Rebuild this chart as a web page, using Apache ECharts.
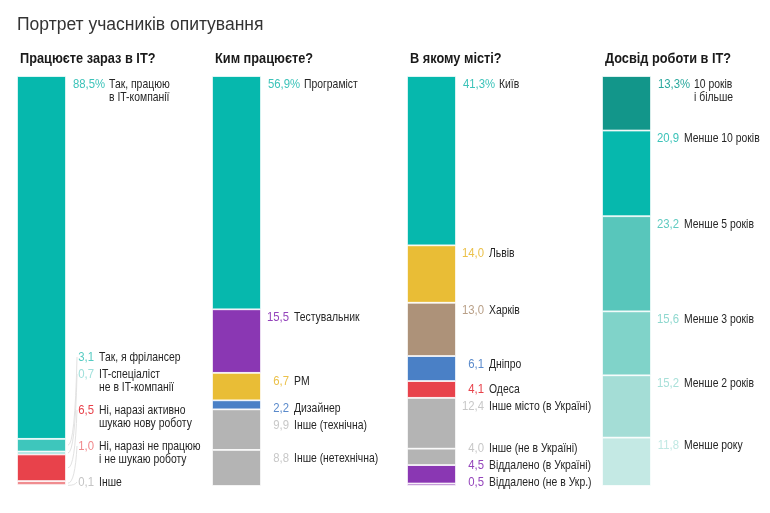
<!DOCTYPE html>
<html><head><meta charset="utf-8">
<script src="https://cdn.jsdelivr.net/npm/echarts@6/dist/echarts.min.js"></script>
<style>html,body{margin:0;padding:0;background:#fff}#c{width:770px;height:513px}</style>
</head><body><div id="c"></div>
<script>
const titleText = 'Портрет учасників опитування';
const questions = ['Працюєте зараз в IT?', 'Ким працюєте?', 'В якому місті?', 'Досвід роботи в IT?'];

const workValues = [88.5, 3.1, 0.7, 6.5, 1.0, 0.1];
const workLabels = ['Так, працюю\nв IT-компанії', 'Так, я фрілансер', 'IT-спеціаліст\nне в IT-компанії', 'Ні, наразі активно\nшукаю нову роботу', 'Ні, наразі не працюю\nі не шукаю роботу', 'Інше'];
const roleValues = [56.9, 15.5, 6.7, 2.2, 9.9, 8.8];
const roleLabels = ['Програміст', 'Тестувальник', 'PM', 'Дизайнер', 'Інше (технічна)', 'Інше (нетехнічна)'];
const cityValues = [41.3, 14.0, 13.0, 6.1, 4.1, 12.4, 4.0, 4.5, 0.5];
const cityLabels = ['Київ', 'Львів', 'Харків', 'Дніпро', 'Одеса', 'Інше місто (в Україні)', 'Інше (не в Україні)', 'Віддалено (в Україні)', 'Віддалено (не в Укр.)'];
const expValues = [13.3, 20.9, 23.2, 15.6, 15.2, 11.8];
const expLabels = ['10 років\nі більше', 'Менше 10 років', 'Менше 5 років', 'Менше 3 років', 'Менше 2 років', 'Менше року'];

// styles
const workColors = ['#06b8ad', '#3ec6bc', '#8fdcd6', '#e8424b', '#f08d90', '#f2c4c5'];
const workNumColors = ['#3cc3b9', '#55cbc2', '#9fe0db', '#e8424b', '#f0888b', '#c4c4c4'];
const roleColors = ['#06b8ad', '#8a37b3', '#e9bd36', '#4a80c6', '#b4b4b4', '#b4b4b4'];
const roleNumColors = ['#3cc3b9', '#9444bb', '#ebc14a', '#5a8acb', '#c8c8c8', '#c8c8c8'];
const cityColors = ['#06b8ad', '#e9bd36', '#ad9279', '#4a80c6', '#e8424b', '#b4b4b4', '#b4b4b4', '#8a37b3', '#8a37b3'];
const cityNumColors = ['#3cc3b9', '#ebc14a', '#b9a088', '#5a8acb', '#e8424b', '#c8c8c8', '#c8c8c8', '#9444bb', '#9444bb'];
const expColors = ['#12968a', '#06b8ad', '#58c6bb', '#80d3c9', '#a4ddd6', '#c4e9e4'];
const expNumColors = ['#2aa89d', '#3cc3b9', '#5fcac0', '#8fd8cf', '#a8e0d9', '#c0e8e3'];

const groups = [
  { values: workValues, labels: workLabels, colors: workColors, numColors: workNumColors, leaders: true },
  { values: roleValues, labels: roleLabels, colors: roleColors, numColors: roleNumColors, leaders: false },
  { values: cityValues, labels: cityLabels, colors: cityColors, numColors: cityNumColors, leaders: false },
  { values: expValues, labels: expLabels, colors: expColors, numColors: expNumColors, leaders: false }
];

const FONT = "'Liberation Sans', Arial, sans-serif";
const NAME_SX = 0.77, NUM_SX = 0.84;
const LINE_H = 13.5;
const GRID_LEFT0 = 17, GRID_STEP = 195, BAR_W = 49, GRID_TOP = 76, GRID_H = 410;

function fmt(v, first) {
  return v.toFixed(1).replace('.', ',') + (first ? '%' : '');
}
function gap(lines) { return 17 + 19 * (lines - 1); }

function layoutGroup(values, labels, api) {
  let cum = 0;
  const tops = [], mids = [];
  values.forEach(v => {
    tops.push(api.coord([0, cum])[1]);
    mids.push(api.coord([0, cum + v / 2])[1]);
    cum += v;
  });
  const bottom = api.coord([0, 100])[1];
  const lines = labels.map(l => l.split('\n').length);
  const n = values.length;
  const y = tops.map(t => t + 8);
  for (let k = 1; k < n; k++) y[k] = Math.max(y[k], y[k - 1] + gap(lines[k - 1]));
  y[n - 1] = Math.min(y[n - 1], bottom - 4);
  for (let k = n - 2; k >= 0; k--) y[k] = Math.min(y[k], y[k + 1] - gap(lines[k]));
  return { y, mids };
}

const grids = [], xAxes = [], yAxes = [], series = [];
groups.forEach((g, gi) => {
  grids.push({ left: GRID_LEFT0 + GRID_STEP * gi, top: GRID_TOP, width: BAR_W, height: GRID_H });
  xAxes.push({ type: 'category', gridIndex: gi, data: ['a'], show: false });
  yAxes.push({ type: 'value', gridIndex: gi, min: 0, max: 100, inverse: true, show: false });
  g.values.forEach((v, k) => {
    series.push({
      type: 'bar', xAxisIndex: gi, yAxisIndex: gi, stack: 's' + gi,
      data: [v], barWidth: '100%', silent: true,
      itemStyle: { color: g.colors[k], borderColor: '#ffffff', borderWidth: 0.8 },
      animation: false
    });
  });
  series.push({
    type: 'custom', xAxisIndex: gi, yAxisIndex: gi, clip: false, silent: true, animation: false,
    data: g.values.map((v, k) => [0, k]),
    renderItem: function (params, api) {
      const k = params.dataIndex;
      const { y, mids } = layoutGroup(g.values, g.labels, api);
      const cx = api.coord([0, 0])[0];
      const barRight = cx + api.size([1, 0])[0] / 2;
      const first = k === 0;
      const ly = y[k];
      const children = [];
      children.push({
        type: 'text',
        x: first ? barRight + 7 : barRight + 28, y: ly, scaleX: NUM_SX,
        style: {
          x: 0, y: 0,
          text: fmt(g.values[k], first),
          fill: g.numColors[k], font: '13.5px ' + FONT,
          align: first ? 'left' : 'right', verticalAlign: 'middle'
        }
      });
      children.push({
        type: 'text',
        x: first ? barRight + 43 : barRight + 33, y: ly - LINE_H / 2, scaleX: NAME_SX,
        style: {
          x: 0, y: 0,
          text: g.labels[k], fill: '#262626', font: '13.5px ' + FONT,
          lineHeight: LINE_H, align: 'left', verticalAlign: 'top'
        }
      });
      if (g.leaders && !first) {
        const x1 = barRight + 2, y1 = mids[k], x2 = barRight + 11, y2 = ly;
        children.push({
          type: 'bezierCurve',
          shape: { x1: x1, y1: y1, x2: x2, y2: y2, cpx1: x2 - 2, cpy1: y1 },
          style: { stroke: '#e2e2e2', lineWidth: 1, fill: null }
        });
      }
      return { type: 'group', children: children };
    }
  });
});

const graphics = [{
  type: 'text', x: 17, y: 25,
  style: { x: 0, y: 0, text: titleText, fill: '#333333', font: "17.5px 'Liberation Sans', 'Noto Sans', sans-serif", verticalAlign: 'middle' }
}];
questions.forEach((q, gi) => {
  graphics.push({
    type: 'text', x: GRID_LEFT0 + GRID_STEP * gi + 3, y: 59, scaleX: 0.88,
    style: { x: 0, y: 0, text: q, fill: '#1a1a1a', font: 'bold 14.5px ' + FONT, verticalAlign: 'middle' }
  });
});

const chart = echarts.init(document.getElementById('c'), null, { renderer: 'canvas' });
chart.setOption({
  animation: false,
  backgroundColor: '#ffffff',
  grid: grids, xAxis: xAxes, yAxis: yAxes, series: series,
  graphic: graphics
});
</script>
</body></html>
